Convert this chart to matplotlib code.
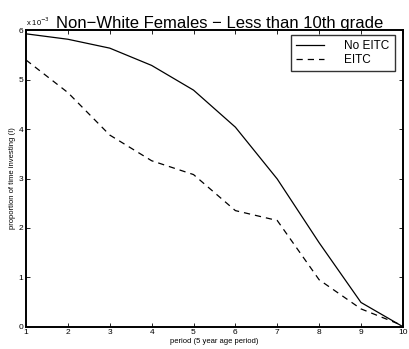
import matplotlib
matplotlib.use("Agg")
import matplotlib.pyplot as plt

plt.rcParams['font.family'] = ['Liberation Sans', 'DejaVu Sans']

# values in units of 1e-3
periods = [1, 2, 3, 4, 5, 6, 7, 8, 9, 10]
no_eitc = [5.93, 5.82, 5.64, 5.29, 4.79, 4.04, 2.99, 1.70, 0.49, 0.0]
eitc = [5.40, 4.74, 3.88, 3.36, 3.08, 2.35, 2.15, 0.95, 0.36, 0.02]
x_ticks = [1, 2, 3, 4, 5, 6, 7, 8, 9, 10]
y_ticks = [0, 1, 2, 3, 4, 5, 6]

fig = plt.figure(figsize=(4.09, 3.49), dpi=100)
ax = fig.add_axes([0.0636, 0.064, 0.9214, 0.849])

ax.plot(periods, no_eitc, color='black', lw=0.9, ls='-', label='No EITC')
ax.plot(periods, eitc, color='black', lw=0.9, ls=(0, (5, 4)), label='EITC')

ax.set_xlim(1, 10)
ax.set_ylim(0, 6)
ax.set_xticks(x_ticks)
ax.set_yticks(y_ticks)
ax.tick_params(direction='in', top=True, right=True, labelsize=6, length=3,
               width=0.6, pad=2)
for sp in ax.spines.values():
    sp.set_linewidth(1.4)

ax.set_xlabel('period (5 year age period)', fontsize=5.5, labelpad=1)
ax.set_ylabel('proportion of time investing (I)', fontsize=5.5, labelpad=2)
# title nudged right so it clears the exponent label
ax.set_title('Non\u2212White Females \u2212 Less than 10th grade', fontsize=12.0,
             pad=1.5, x=0.515)
ax.text(0.0, 1.008, 'x 10$^{-3}$', transform=ax.transAxes, fontsize=5.5,
        ha='left', va='bottom')

leg = ax.legend(loc='upper right', fontsize=8.5, frameon=True, fancybox=False,
                handlelength=2.4, borderpad=0.45, labelspacing=0.2,
                handletextpad=1.7, borderaxespad=0.1, bbox_to_anchor=(0.982, 0.99))
leg.get_frame().set_edgecolor('black')
leg.get_frame().set_linewidth(1.0)

fig.savefig('out.png', dpi=100)
